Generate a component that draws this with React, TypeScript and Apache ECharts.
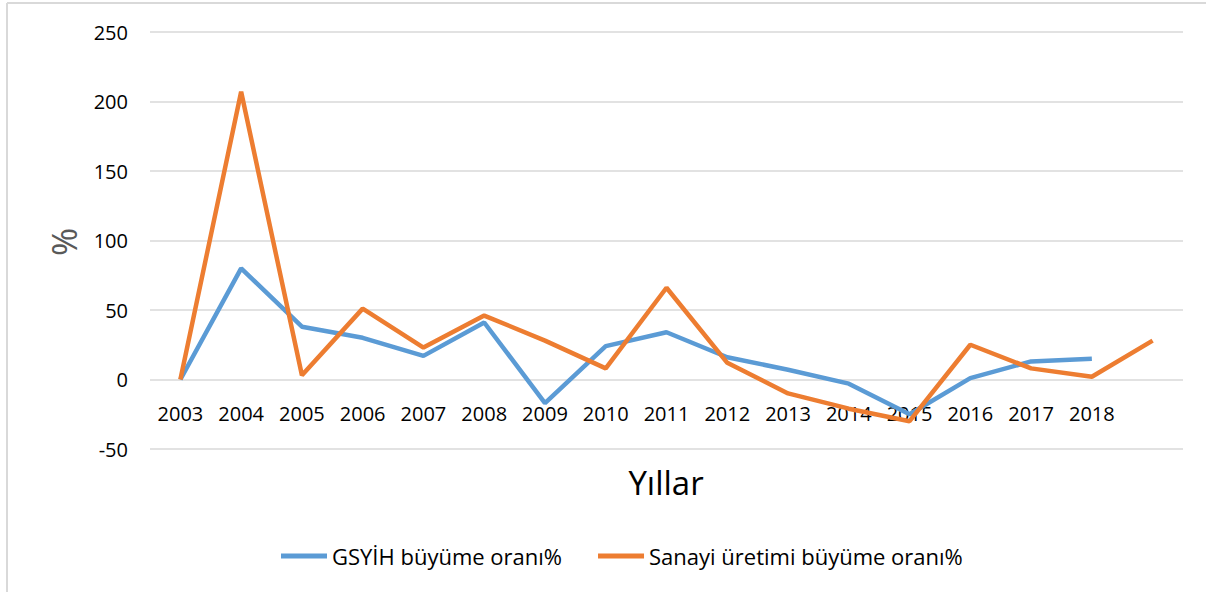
import React, { useEffect, useRef } from "react";
import * as echarts from "echarts";

const categories = ["2003", "2004", "2005", "2006", "2007", "2008", "2009", "2010", "2011", "2012", "2013", "2014", "2015", "2016", "2017", "2018", ""];
const gdpGrowth = [0, 80, 38, 30, 17, 41, -17, 24, 34, 16, 7, -3, -25, 1, 13, 15, null];
const industryGrowth = [0, 207, 3, 51, 23, 46, 28, 8, 66, 12, -10, -21, -30, 25, 8, 2, 28];
const seriesNames = ["GSYİH büyüme oranı%", "Sanayi üretimi büyüme oranı%"];
const yMin = -50;
const yMax = 250;
const yInterval = 50;

const FONT = "'Open Sans', 'Noto Sans', sans-serif";

export default function App() {
  const ref = useRef<HTMLDivElement>(null);
  useEffect(() => {
    if (!ref.current) return;
    const chart = echarts.init(ref.current, null, { renderer: "svg" });
    chart.setOption({
      animation: false,
      backgroundColor: "#ffffff",
      textStyle: { fontFamily: FONT },
      grid: { left: 150, right: 23, top: 32, bottom: 143, containLabel: false },
      xAxis: {
        type: "category",
        data: categories,
        boundaryGap: true,
        axisLine: { show: false },
        axisTick: { show: false },
        axisLabel: { interval: 0, fontSize: 20, color: "#000", margin: -46, fontFamily: FONT },
        splitLine: { show: false },
      },
      yAxis: {
        type: "value",
        min: yMin,
        max: yMax,
        interval: yInterval,
        axisLine: { show: false },
        axisTick: { show: false },
        axisLabel: { fontSize: 20, color: "#000", margin: 22, fontFamily: FONT },
        splitLine: { lineStyle: { color: "#d9d9d9", width: 1.5 } },
      },
      legend: {
        bottom: 20,
        left: 276,
        icon: "rect",
        itemWidth: 46,
        itemHeight: 5,
        itemGap: 36,
        textStyle: { fontSize: 22, color: "#000", fontFamily: FONT },
        data: seriesNames,
      },
      graphic: [
        { type: "line", shape: { x1: 7, y1: 3, x2: 1206, y2: 3 }, style: { stroke: "#d9d9d9", lineWidth: 2 } },
        { type: "line", shape: { x1: 7, y1: 3, x2: 7, y2: 592 }, style: { stroke: "#d9d9d9", lineWidth: 2 } },
        {
          type: "text",
          x: 666,
          y: 482,
          style: { text: "Yıllar", fontSize: 33, fill: "#000", fontFamily: FONT, textAlign: "center", textVerticalAlign: "middle" },
        },
        {
          type: "text",
          x: 64,
          y: 242,
          rotation: Math.PI / 2,
          style: { text: "%", fontSize: 34, fill: "#595959", fontFamily: FONT, textAlign: "center", textVerticalAlign: "middle" },
        },
      ],
      series: [
        {
          name: seriesNames[0],
          type: "line",
          data: gdpGrowth,
          symbol: "none",
          lineStyle: { color: "#5B9BD5", width: 4.5 },
          itemStyle: { color: "#5B9BD5" },
        },
        {
          name: seriesNames[1],
          type: "line",
          data: industryGrowth,
          symbol: "none",
          lineStyle: { color: "#ED7D31", width: 4.5 },
          itemStyle: { color: "#ED7D31" },
        },
      ],
    });
    return () => chart.dispose();
  }, []);
  return <div ref={ref} style={{ position: "absolute", left: 0, top: 0, width: 1206, height: 592 }} />;
}
